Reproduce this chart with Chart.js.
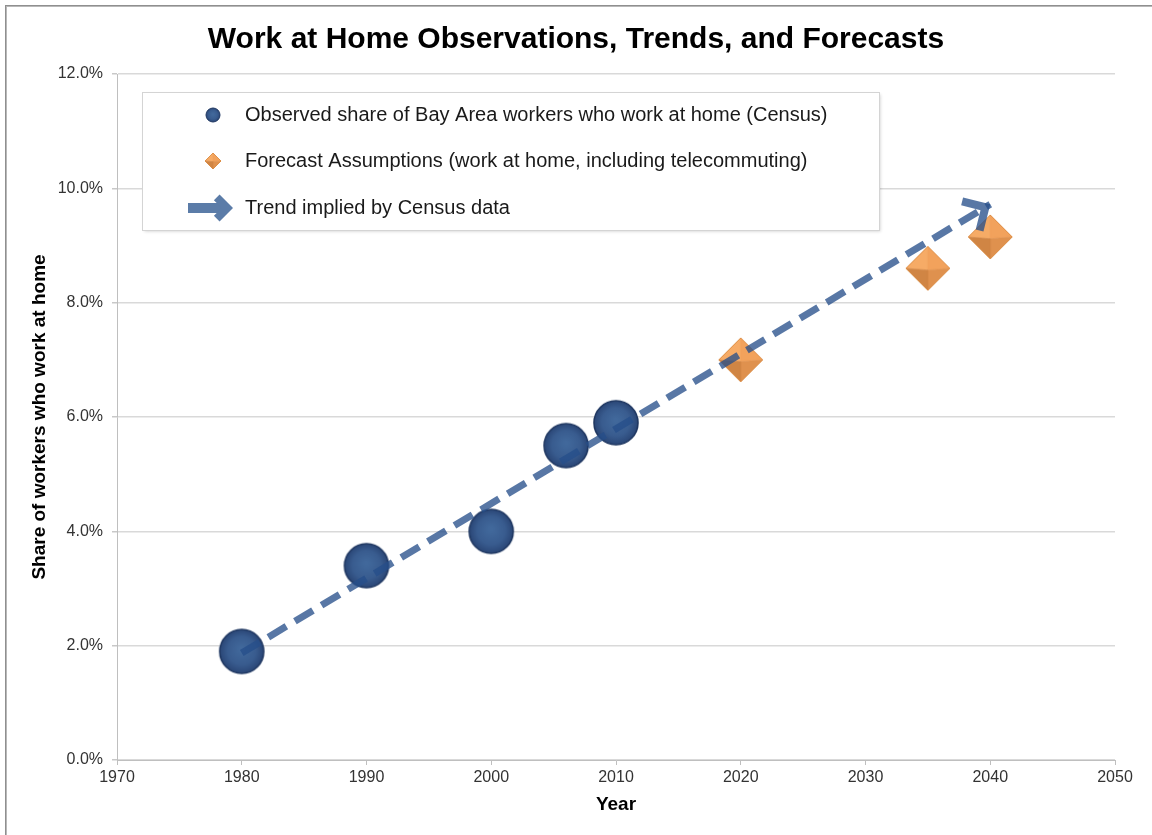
<!DOCTYPE html>
<html><head><meta charset="utf-8">
<script src="https://cdn.jsdelivr.net/npm/chart.js@4.4.1/dist/chart.umd.min.js"></script>
<style>html,body{margin:0;padding:0;background:#fff;} canvas{display:block;}</style>
</head><body>
<canvas id="c" width="1152" height="835"></canvas>
<script>
// ---- data ----
const observedYears = [1980, 1990, 2000, 2006, 2010];
const observedShare = [1.9, 3.4, 4.0, 5.5, 5.9];
const forecastYears = [2020, 2035, 2040];
const forecastShare = [7.0, 8.6, 9.15];
const trendYears = [1980, 2040];
const trendShare = [1.87, 9.72];
const seriesLabels = [
  'Observed share of Bay Area workers who work at home (Census)',
  'Forecast Assumptions (work at home, including telecommuting)',
  'Trend implied by Census data'
];
const titleText = 'Work at Home Observations, Trends, and Forecasts';
const xTitleText = 'Year';
const yTitleText = 'Share of workers who work at home';
const xRange = [1970, 2050];
const xStep = 10;
const yRange = [0, 12];
const yStep = 2;

// ---- styles ----
const FONT = "'Liberation Sans', Arial, Helvetica, sans-serif";
const TREND_COLOR = 'rgba(38,78,138,0.77)';

function circleMarker(r) {
  const s = Math.ceil(2 * r + 4);
  const c = document.createElement('canvas');
  c.width = c.height = s;
  const g = c.getContext('2d');
  const cx = s / 2;
  const grad = g.createRadialGradient(cx, cx - r * 0.1, r * 0.1, cx, cx, r);
  grad.addColorStop(0, '#41689b');
  grad.addColorStop(0.6, '#395c8f');
  grad.addColorStop(1, '#2a4676');
  g.beginPath();
  g.arc(cx, cx, r, 0, Math.PI * 2);
  g.fillStyle = grad;
  g.fill();
  g.lineWidth = Math.max(1, r / 14);
  g.strokeStyle = '#1f3761';
  g.stroke();
  return c;
}

function diamondMarker(r) {
  const s = Math.ceil(2 * r + 4);
  const c = document.createElement('canvas');
  c.width = c.height = s;
  const g = c.getContext('2d');
  const cx = s / 2;
  const L = [cx - r, cx], T = [cx, cx - r], R = [cx + r, cx], B = [cx, cx + r];
  const C = [cx, cx + r * 0.08];
  const faces = [[L, T, '#f6ab66'], [T, R, '#f2a25c'], [R, B, '#df914e'], [B, L, '#d08544']];
  faces.forEach(([a, b, col]) => {
    g.beginPath(); g.moveTo(a[0], a[1]); g.lineTo(b[0], b[1]); g.lineTo(C[0], C[1]); g.closePath();
    g.fillStyle = col; g.fill();
    g.strokeStyle = col; g.lineWidth = 0.6; g.stroke();
  });
  g.beginPath(); g.moveTo(L[0], L[1]); g.lineTo(T[0], T[1]); g.lineTo(R[0], R[1]); g.lineTo(B[0], B[1]); g.closePath();
  g.strokeStyle = '#d9893f'; g.lineWidth = Math.max(0.8, r / 25); g.stroke();
  return c;
}

const bigCircle = circleMarker(22);
const bigDiamond = diamondMarker(22);
const smallCircle = circleMarker(7);
const smallDiamond = diamondMarker(8);

// ---- plugins ----
const framePlugin = {
  id: 'frame',
  beforeDraw(chart) {
    const ctx = chart.ctx;
    ctx.save();
    ctx.fillStyle = '#fff';
    ctx.fillRect(0, 0, chart.width, chart.height);
    ctx.fillStyle = '#8f8f8f';
    ctx.fillRect(5, 5, chart.width - 5, 1);
    ctx.fillRect(5, 5, 1, chart.height - 5);
    ctx.fillStyle = '#b8b8b8';
    ctx.fillRect(6, 6, chart.width - 6, 1);
    ctx.fillRect(6, 6, 1, chart.height - 6);
    ctx.restore();
  }
};

// chevron whose outer (miter) tip lands on (x, y)
function drawChevron(ctx, x, y, angle, len, width) {
  const back = width / 2 * Math.SQRT2;
  const vx = x - Math.cos(angle) * back, vy = y - Math.sin(angle) * back;
  const a1 = angle + Math.PI - Math.PI / 4;
  const a2 = angle + Math.PI + Math.PI / 4;
  ctx.beginPath();
  ctx.moveTo(vx + Math.cos(a1) * len, vy + Math.sin(a1) * len);
  ctx.lineTo(vx, vy);
  ctx.lineTo(vx + Math.cos(a2) * len, vy + Math.sin(a2) * len);
  ctx.lineWidth = width;
  ctx.lineJoin = 'miter';
  ctx.miterLimit = 10;
  ctx.lineCap = 'butt';
  ctx.stroke();
}

const arrowPlugin = {
  id: 'arrowHead',
  afterDatasetsDraw(chart) {
    const meta = chart.getDatasetMeta(2);
    const pts = meta.data;
    if (pts.length < 2) return;
    const p0 = pts[pts.length - 2], p1 = pts[pts.length - 1];
    const ang = Math.atan2(p1.y - p0.y, p1.x - p0.x);
    const ctx = chart.ctx;
    ctx.save();
    ctx.strokeStyle = TREND_COLOR;
    drawChevron(ctx, p1.x, p1.y, ang, 24, 8);
    ctx.restore();
  }
};

const legendPlugin = {
  id: 'boxLegend',
  afterDraw(chart) {
    const ctx = chart.ctx;
    const box = {x: 142.5, y: 92.5, w: 737, h: 138};
    ctx.save();
    ctx.shadowColor = 'rgba(0,0,0,0.18)';
    ctx.shadowBlur = 3;
    ctx.shadowOffsetX = 1;
    ctx.shadowOffsetY = 1;
    ctx.fillStyle = '#fff';
    ctx.fillRect(box.x, box.y, box.w, box.h);
    ctx.shadowColor = 'transparent';
    ctx.strokeStyle = '#d4d4d4';
    ctx.lineWidth = 1;
    ctx.strokeRect(box.x, box.y, box.w, box.h);
    const mx = 213, tx = 245;
    const rows = [115, 161, 208];
    ctx.drawImage(smallCircle, mx - smallCircle.width / 2, rows[0] - smallCircle.height / 2);
    ctx.drawImage(smallDiamond, mx - smallDiamond.width / 2, rows[1] - smallDiamond.height / 2);
    // block arrow
    ctx.strokeStyle = '#5b7ca8';
    ctx.lineWidth = 10;
    ctx.beginPath(); ctx.moveTo(188, rows[2]); ctx.lineTo(224, rows[2]); ctx.stroke();
    drawChevron(ctx, 233, rows[2], 0, 15, 8);
    ctx.fillStyle = '#1a1a1a';
    ctx.font = '20px ' + FONT;
    ctx.textBaseline = 'middle';
    ctx.textAlign = 'left';
    chart.data.datasets.forEach((ds, i) => ctx.fillText(ds.label, tx, rows[i]));
    ctx.restore();
  }
};

const toPoints = (xs, ys) => xs.map((x, i) => ({x, y: ys[i]}));

new Chart(document.getElementById('c'), {
  type: 'scatter',
  data: {
    datasets: [
      {label: seriesLabels[0], data: toPoints(observedYears, observedShare), pointStyle: bigCircle, pointRadius: 22, order: 2},
      {label: seriesLabels[1], data: toPoints(forecastYears, forecastShare), pointStyle: bigDiamond, pointRadius: 22, order: 1},
      {label: seriesLabels[2], data: toPoints(trendYears, trendShare), type: 'line', showLine: true, pointRadius: 0,
       borderColor: TREND_COLOR, borderWidth: 7, borderDash: [21, 10], borderCapStyle: 'butt', fill: false, order: 0}
    ]
  },
  options: {
    responsive: false,
    devicePixelRatio: 1,
    animation: false,
    events: [],
    layout: {padding: {left: 0, right: 0, top: 0, bottom: 0}},
    plugins: {
      legend: {display: false},
      tooltip: {enabled: false},
      title: {
        display: true, text: titleText, color: '#000',
        font: {family: FONT, size: 30, weight: 'bold', lineHeight: 1.2},
        padding: {top: 22, bottom: 16}
      }
    },
    scales: {
      x: {
        type: 'linear', min: xRange[0], max: xRange[1],
        ticks: {stepSize: xStep, callback: v => String(v), color: '#333', font: {family: FONT, size: 16}, padding: 3, maxRotation: 0, autoSkip: false},
        grid: {drawOnChartArea: false, drawTicks: true, tickLength: 5, color: '#bfbfbf'},
        border: {color: '#bfbfbf', width: 1},
        title: {display: true, text: xTitleText, color: '#000', font: {family: FONT, size: 19, weight: 'bold', lineHeight: 1.2}, padding: {top: 0, bottom: 19}},
        afterFit: s => { s.height = 75; }
      },
      y: {
        min: yRange[0], max: yRange[1],
        ticks: {stepSize: yStep, callback: v => v.toFixed(1) + '%', color: '#333', font: {family: FONT, size: 16}, padding: 9},
        grid: {color: '#d9d9d9', lineWidth: 1.5, tickLength: 5, tickColor: '#c8c8c8'},
        border: {color: '#bfbfbf', width: 1},
        title: {display: true, text: yTitleText, color: '#000', font: {family: FONT, size: 19, weight: 'bold', lineHeight: 1.2}, padding: {top: 28, bottom: 0}},
        afterFit: s => { s.width = 117; }
      },
      rightSpace: {
        type: 'linear', position: 'right', display: true,
        grid: {display: false, drawTicks: false},
        border: {display: false},
        ticks: {display: false},
        afterFit: s => { s.width = 37; }
      }
    }
  },
  plugins: [framePlugin, arrowPlugin, legendPlugin]
});
</script>
</body></html>
